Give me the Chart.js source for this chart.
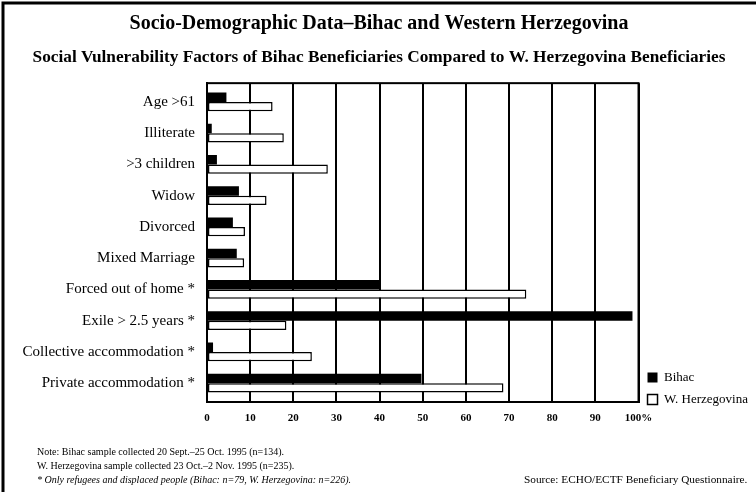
<!DOCTYPE html>
<html>
<head>
<meta charset="utf-8">
<script src="https://cdn.jsdelivr.net/npm/chart.js@4"></script>
<style>
  html, body { margin: 0; padding: 0; background: #fff; }
  #wrap { position: relative; width: 756px; height: 492px; }
  .note { position: absolute; font-family: "Liberation Serif", serif; font-size: 10px; color: #000; white-space: nowrap; }
</style>
</head>
<body>
<div id="wrap">
  <canvas id="chart" width="756" height="492"></canvas>
  <div class="note" style="left:37px; top:446px;">Note: Bihac sample collected 20 Sept.–25 Oct. 1995 (n=134).</div>
  <div class="note" style="left:37px; top:460px;">W. Herzegovina sample collected 23 Oct.–2 Nov. 1995 (n=235).</div>
  <div class="note" style="left:37px; top:474px; font-style:italic;">* Only refugees and displaced people (Bihac: n=79, W. Herzegovina: n=226).</div>
  <div class="note" style="left:524px; top:473px; font-size:11.3px;">Source: ECHO/ECTF Beneficiary Questionnaire.</div>
</div>
<script>
(() => {
'use strict';

const categories = [
  'Age >61', 'Illiterate', '>3 children', 'Widow', 'Divorced', 'Mixed Marriage',
  'Forced out of home *', 'Exile > 2.5 years *', 'Collective accommodation *', 'Private accommodation *'
];
const bihac = [4.5, 1.1, 2.3, 7.4, 6, 6.9, 40, 98.6, 1.4, 49.7];
const herzegovina = [15.2, 17.8, 28, 13.8, 8.8, 8.6, 74, 18.4, 24.3, 68.7];
const xTicks = [0, 10, 20, 30, 40, 50, 60, 70, 80, 90, 100];

const SERIF = '"Liberation Serif", "DejaVu Serif", serif';

// page frame plus box round the plot
const framePlugin = {
  id: 'frame',
  afterLayout(chart) {
    // legend sits next to the bottom of the plot, not the page
    const lg = chart.legend;
    lg.top = chart.chartArea.top;
    lg.bottom = 415;
  },
  afterDraw(chart) {
    const { ctx, chartArea: a } = chart;
    ctx.save();
    ctx.strokeStyle = '#000';
    ctx.lineWidth = 3;
    ctx.beginPath();
    ctx.moveTo(3, 492); ctx.lineTo(3, 3); ctx.lineTo(756, 3);
    ctx.stroke();
    ctx.lineWidth = 2;
    ctx.strokeRect(a.left, a.top, a.right - a.left, a.bottom - a.top);
    ctx.restore();
  }
};

new Chart(document.getElementById('chart'), {
  type: 'bar',
  data: {
    labels: categories,
    datasets: [
      { label: 'Bihac', data: bihac, backgroundColor: '#000', borderColor: '#000', borderWidth: 0 },
      { label: 'W. Herzegovina', data: herzegovina, backgroundColor: '#fff', borderColor: '#000', borderWidth: 1.5, borderSkipped: false }
    ]
  },
  options: {
    indexAxis: 'y',
    responsive: false,
    animation: false,
    devicePixelRatio: 1,
    categoryPercentage: 0.6,
    barPercentage: 1,
    layout: { padding: { left: 0, right: -2, top: 0, bottom: 0 } },
    plugins: {
      title: {
        display: true,
        text: 'Socio-Demographic Data–Bihac and Western Herzegovina',
        color: '#000',
        font: { family: SERIF, size: 20, weight: 'bold' },
        padding: { top: 12, bottom: 11 }
      },
      subtitle: {
        display: true,
        text: 'Social Vulnerability Factors of Bihac Beneficiaries Compared to W. Herzegovina Beneficiaries',
        color: '#000',
        font: { family: SERIF, size: 17.3, weight: 'bold' },
        padding: { top: 0, bottom: 15.4 }
      },
      legend: {
        position: 'right',
        align: 'end',
        labels: {
          color: '#000',
          font: { family: SERIF, size: 13 },
          boxWidth: 10,
          boxHeight: 10,
          padding: 9
        }
      },
      tooltip: { enabled: false }
    },
    scales: {
      x: {
        min: 0,
        max: 100,
        afterBuildTicks: s => { s.ticks = xTicks.map(v => ({ value: v })); },
        afterFit: s => { s.height = 90; },
        grid: { color: '#000', lineWidth: 2, drawTicks: false },
        border: { color: '#000', width: 2 },
        ticks: {
          color: '#000',
          padding: 10,
          font: { family: SERIF, size: 11, weight: 'bold' },
          callback: v => v === 100 ? '100%' : v
        }
      },
      y: {
        // a little extra room above the first and below the last category
        afterBuildTicks: s => { s._startValue = -0.6; s._valueRange = categories.length + 0.2; },
        afterFit: s => { s.width = 207; },
        grid: { display: false, drawTicks: false },
        border: { color: '#000', width: 2 },
        ticks: {
          color: '#000',
          padding: 12,
          font: { family: SERIF, size: 15 }
        }
      }
    }
  },
  plugins: [framePlugin]
});
})();
</script>
</body>
</html>
